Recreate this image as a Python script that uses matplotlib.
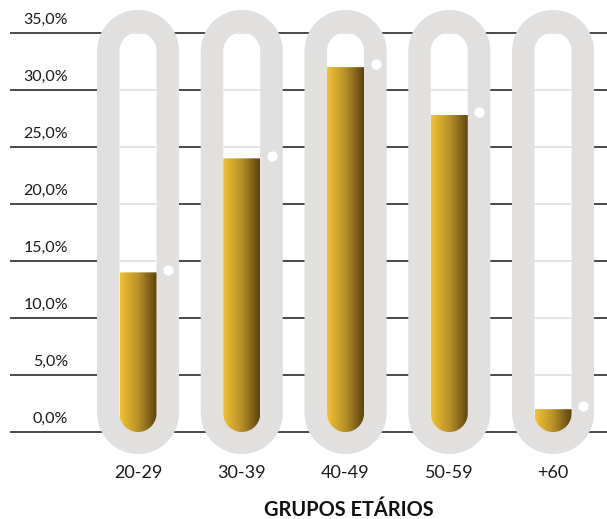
import numpy as np
import matplotlib
matplotlib.use("Agg")
import matplotlib.pyplot as plt
from matplotlib.patches import PathPatch
from matplotlib.path import Path
from matplotlib.colors import LinearSegmentedColormap
from matplotlib import font_manager

# data
groups = ["20-29", "30-39", "40-49", "50-59", "+60"]
shares = [14.0, 24.0, 32.0, 27.8, 2.0]
yticks = [0, 5, 10, 15, 20, 25, 30, 35]
ytick_labels = ["0,0%", "5,0%", "10,0%", "15,0%", "20,0%", "25,0%", "30,0%", "35,0%"]
xlabel = "GRUPOS ETÁRIOS"

installed = {f.name for f in font_manager.fontManager.ttflist}
narrow = "Liberation Sans Narrow" if "Liberation Sans Narrow" in installed else "Lato"

fig = plt.figure(figsize=(6.07, 5.19), dpi=100)
ax = fig.add_axes([0, 0, 1, 1])
ax.set_xlim(-1.330, 4.520)
ax.set_ylim(-7.63, 37.89)
ax.axis("off")

# pixels per data unit
p0 = ax.transData.transform((0, 0))
p1 = ax.transData.transform((1, 1))
sx, sy = p1[0] - p0[0], p1[1] - p0[1]


def stadium(xc, ytop, ybot, r_px):
    rx, ry = r_px / sx, r_px / sy
    t1 = np.linspace(0, np.pi, 40)
    t2 = np.linspace(np.pi, 2 * np.pi, 40)
    top = np.column_stack([xc + rx * np.cos(t1), ytop + ry * np.sin(t1)])
    bot = np.column_stack([xc + rx * np.cos(t2), ybot + ry * np.sin(t2)])
    pts = np.vstack([top, bot, top[:1]])
    return Path(pts, closed=True)


def bar_path(xc, top, r_px):
    rx, ry = r_px / sx, r_px / sy
    t = np.linspace(np.pi, 2 * np.pi, 40)
    bot = np.column_stack([xc + rx * np.cos(t), ry + ry * np.sin(t)])
    pts = np.vstack([[[xc - rx, top]], bot, [[xc + rx, top], [xc - rx, top]]])
    return Path(pts, closed=True)


x = np.arange(len(groups))
x_left = -1.234

# dark grid lines
ax.hlines(yticks, x_left, 4.52, color="#3a3a3a", lw=1.3, zorder=1)
for v, lab in zip(yticks, ytick_labels):
    ax.text(-0.675, v + 0.55, lab, ha="right", va="bottom", fontsize=11.5,
            family=narrow, color="#1a1a1a")

track_top = (432 - 51) / 11.4
track_bot = (432 - 413) / 11.4

cmap = LinearSegmentedColormap.from_list("gold", ["#F2C232", "#B8902A", "#5A420B"])
grad = np.linspace(0, 1, 256).reshape(1, -1)

for xi, v, g in zip(x, shares, groups):
    outer = PathPatch(stadium(xi, track_top, track_bot, 41), fc="#e1e0df", ec="none", zorder=2)
    ax.add_patch(outer)
    inner = PathPatch(stadium(xi, track_top, track_bot, 18.5), fc="white", ec="none", zorder=3)
    ax.add_patch(inner)
    # faint grid lines seen through the tube
    light = ax.hlines(yticks, xi - 0.5, xi + 0.5, color="#e2e2e2", lw=1.3, zorder=3.5)
    light.set_clip_path(inner)

    bp = PathPatch(bar_path(xi, v, 18.5), fc="none", ec="none", zorder=4)
    ax.add_patch(bp)
    im = ax.imshow(grad, cmap=cmap, aspect="auto", zorder=4,
                   extent=[xi - 18.5 / sx, xi + 18.5 / sx, 0, v])
    im.set_clip_path(bp)

    ax.scatter([xi + 30 / sx], [v + 0.25], s=55, color="white", zorder=5, lw=0)

    ax.text(xi, -3.6, g, ha="center", va="center", fontsize=13, family=narrow,
            color="#1a1a1a")

ax.text(2.03, -6.8, xlabel, ha="center", va="center", fontsize=14.4,
        fontweight="bold", family="Lato", color="#111111")

ax.set_xlim(-1.330, 4.520)
ax.set_ylim(-7.63, 37.89)
fig.savefig("out.png", dpi=100)
